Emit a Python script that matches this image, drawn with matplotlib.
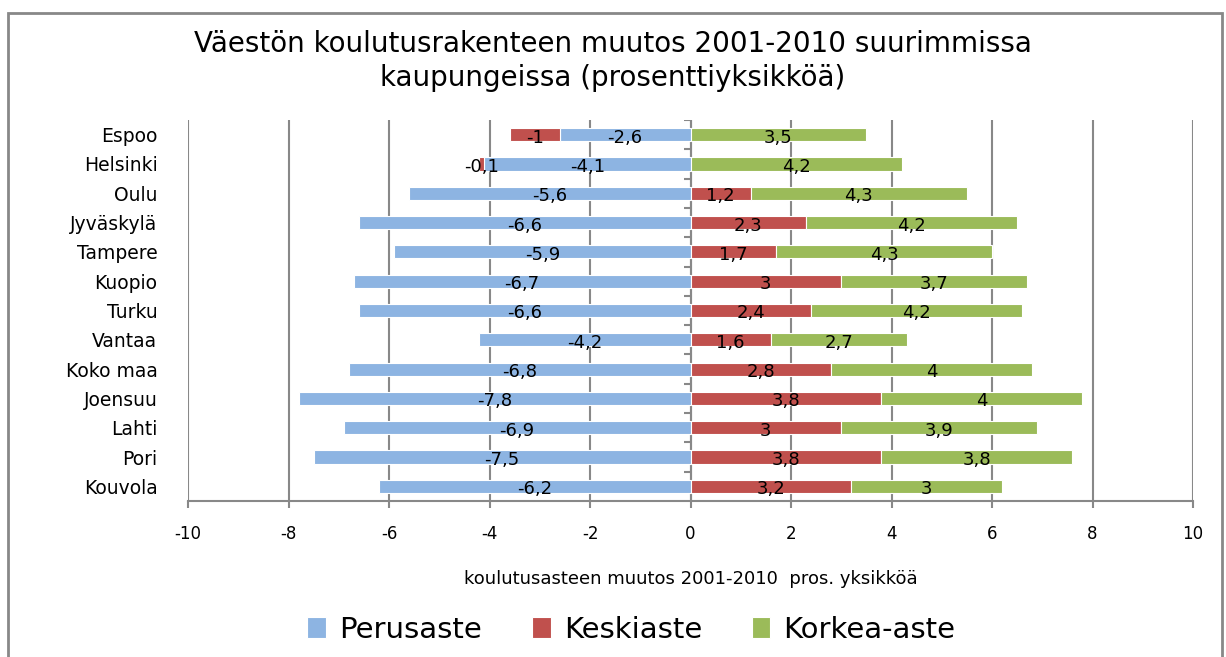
import numpy as np
import matplotlib.pyplot as plt
from matplotlib.patches import Rectangle

cities = ["Espoo", "Helsinki", "Oulu", "Jyväskylä", "Tampere", "Kuopio", "Turku",
          "Vantaa", "Koko maa", "Joensuu", "Lahti", "Pori", "Kouvola"]
perusaste = [-2.6, -4.1, -5.6, -6.6, -5.9, -6.7, -6.6, -4.2, -6.8, -7.8, -6.9, -7.5, -6.2]
keskiaste = [-1, -0.1, 1.2, 2.3, 1.7, 3, 2.4, 1.6, 2.8, 3.8, 3, 3.8, 3.2]
korkea_aste = [3.5, 4.2, 4.3, 4.2, 4.3, 3.7, 4.2, 2.7, 4, 4, 3.9, 3.8, 3]
xticks = [-10, -8, -6, -4, -2, 0, 2, 4, 6, 8, 10]

BLUE = "#8db4e2"
RED = "#c0504d"
GREEN = "#9bbb59"
GRID = "#888888"


def fmt(v):
    # Finnish decimal comma
    return ("%g" % v).replace(".", ",")


fig = plt.figure(figsize=(12.26, 6.57), dpi=100)
ax = fig.add_axes([188/1226, 1-501/657, (1193-188)/1226, (501-120)/657])

y = np.arange(len(cities))
p = np.array(perusaste)
k = np.array(keskiaste)
g = np.array(korkea_aste)

# Excel style stacking: negatives grow left, positives grow right
k_left = np.where(k < 0, p, 0)
g_left = np.where(k > 0, k, 0)

h = 0.45
series = [
    (p, np.zeros_like(p), BLUE, "Perusaste"),
    (k, k_left, RED, "Keskiaste"),
    (g, g_left, GREEN, "Korkea-aste"),
]
for vals, left, col, name in series:
    ax.barh(y, vals, left=left, height=h, color=col, edgecolor="white",
            linewidth=0.8, label=name, zorder=3)
    for yi, v, l in zip(y, vals, left):
        ax.text(l + v/2, yi + 0.1, fmt(v), ha="center", va="center",
                fontsize=13, color="black", zorder=4)

ax.set_xlim(-10, 10)
ax.set_ylim(len(cities) - 0.5, -0.5)
ax.set_xticks(xticks)
ax.set_xticklabels([str(t) for t in xticks], fontsize=12)
ax.set_yticks(y)
ax.set_yticklabels(cities, fontsize=13.5)
ax.tick_params(axis="y", length=0, pad=22)
ax.tick_params(axis="x", length=5, color=GRID, width=1.5, pad=12)

for s in ["top", "right", "left"]:
    ax.spines[s].set_visible(False)
ax.spines["bottom"].set_color(GRID)
ax.spines["bottom"].set_linewidth(1.5)

ax.grid(axis="x", color=GRID, linewidth=1.5, zorder=0)
ax.set_axisbelow(True)

# vertical axis at zero with small ticks between categories
bounds = np.arange(len(cities) + 1) - 0.5
ax.axvline(0, color=GRID, linewidth=1.5, zorder=2)
ax.hlines(bounds[:-1], -0.12, 0, color=GRID, linewidth=1.5, zorder=2)

ax.set_xlabel("koulutusasteen muutos 2001-2010  pros. yksikköä", fontsize=13, labelpad=20)

fig.suptitle("Väestön koulutusrakenteen muutos 2001-2010 suurimmissa\nkaupungeissa (prosenttiyksikköä)",
             fontsize=20, y=0.955, linespacing=1.3)

fig.legend(loc="lower center", bbox_to_anchor=(0.515, -0.02), ncol=3, fontsize=21,
           frameon=False, handlelength=0.65, handleheight=0.7, handletextpad=0.45,
           columnspacing=1.7)

fig.patches.append(Rectangle((8/1226, -0.1), (1222-8)/1226, 1.1 - 13/657,
                             transform=fig.transFigure, fill=False,
                             edgecolor=GRID, linewidth=2))

fig.savefig("out.png", dpi=100)
